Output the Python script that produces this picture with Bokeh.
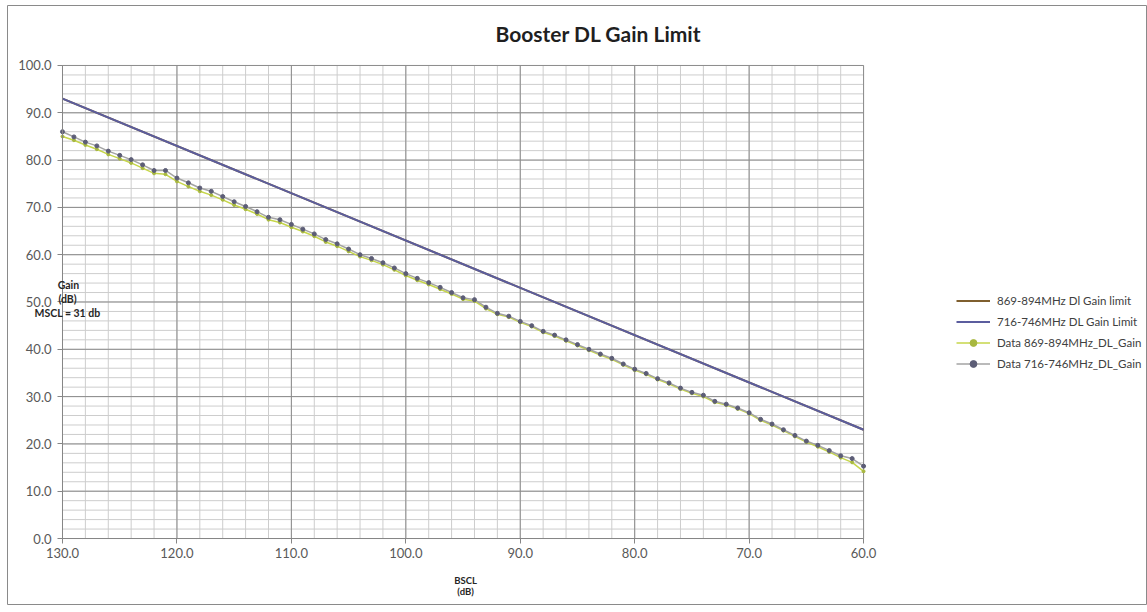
from bokeh.plotting import figure
from bokeh.models import (Range1d, FixedTicker, NumeralTickFormatter, Label, Legend,
                          LegendItem, LinearAxis)
from bokeh.embed import file_html
from bokeh.resources import INLINE

# ---------------- data ----------------
bscl = [130, 129, 128, 127, 126, 125, 124, 123, 122, 121, 120, 119, 118, 117, 116, 115,
        114, 113, 112, 111, 110, 109, 108, 107, 106, 105, 104, 103, 102, 101, 100, 99,
        98, 97, 96, 95, 94, 93, 92, 91, 90, 89, 88, 87, 86, 85, 84, 83, 82, 81, 80, 79,
        78, 77, 76, 75, 74, 73, 72, 71, 70, 69, 68, 67, 66, 65, 64, 63, 62, 61, 60]

data_716 = [86.0, 84.9, 83.8, 83.0, 81.9, 81.0, 80.1, 79.0, 77.8, 77.8, 76.2, 75.2, 74.1, 73.4,
            72.3, 71.2, 70.2, 69.1, 67.9, 67.4, 66.4, 65.4, 64.4, 63.2, 62.3, 61.2, 60.0, 59.2,
            58.3, 57.2, 56.0, 55.0, 54.1, 53.1, 52.0, 50.9, 50.5, 48.9, 47.6, 47.0, 45.9, 45.0,
            43.8, 43.0, 42.0, 41.0, 40.0, 39.0, 38.1, 36.9, 35.8, 34.9, 33.8, 32.9, 31.8, 30.9,
            30.3, 29.0, 28.4, 27.6, 26.6, 25.2, 24.2, 23.0, 21.8, 20.6, 19.7, 18.6, 17.5, 16.9, 15.3]

data_869 = [85.0, 84.2, 83.2, 82.3, 81.2, 80.3, 79.4, 78.3, 77.2, 77.0, 75.5, 74.4, 73.4, 72.6,
            71.6, 70.5, 69.6, 68.6, 67.4, 66.8, 65.8, 64.9, 63.9, 62.7, 61.8, 60.7, 59.6, 58.8,
            57.9, 56.8, 55.6, 54.6, 53.7, 52.7, 51.7, 50.6, 50.2, 48.6, 47.4, 46.8, 45.7, 44.8,
            43.6, 42.8, 41.8, 40.8, 39.8, 38.8, 37.9, 36.7, 35.6, 34.7, 33.6, 32.7, 31.6, 30.7,
            30.0, 28.8, 28.2, 27.4, 26.4, 25.0, 24.0, 22.8, 21.6, 20.4, 19.4, 18.3, 17.1, 16.1, 14.2]

limit_x = [130, 60]
limit_869 = [93.0, 23.0]
limit_716 = [93.0, 23.0]

x_ticks = [130, 120, 110, 100, 90, 80, 70, 60]
y_ticks = [0, 10, 20, 30, 40, 50, 60, 70, 80, 90, 100]
x_minor = list(range(60, 131, 2))
y_minor = list(range(0, 101, 2))

title_text = "Booster DL Gain Limit"
series_names = ["869-894MHz Dl Gain limit", "716-746MHz DL Gain Limit",
                "Data 869-894MHz_DL_Gain", "Data 716-746MHz_DL_Gain"]

FONT = "Lato"
TICK_COLOR = "#595959"

# plotting area: the frame fills the whole figure, axes are pinned at x=130 / y=0
p = figure(width=1140, height=600, output_backend="svg", toolbar_location=None,
           x_range=Range1d(134.806, 35.19), y_range=Range1d(-14.16, 112.68),
           x_axis_location=None, y_axis_location=None,
           min_border=0, min_border_left=0, min_border_right=0,
           min_border_top=0, min_border_bottom=0)
p.outline_line_color = "#8a8a8a"
p.background_fill_color = "white"
p.border_fill_color = "white"
p.xgrid.visible = False
p.ygrid.visible = False
p.styles = {"margin-left": "7px", "margin-top": "5px"}

# grid lines (from the tick lists)
lo_x, hi_x = min(x_ticks), max(x_ticks)
lo_y, hi_y = min(y_ticks), max(y_ticks)
p.segment(x0=x_minor, y0=[lo_y] * len(x_minor), x1=x_minor, y1=[hi_y] * len(x_minor),
          line_color="#cdcdcd", line_width=1)
p.segment(x0=[lo_x] * len(y_minor), y0=y_minor, x1=[hi_x] * len(y_minor), y1=y_minor,
          line_color="#cdcdcd", line_width=1)
p.segment(x0=x_ticks, y0=[lo_y] * len(x_ticks), x1=x_ticks, y1=[hi_y] * len(x_ticks),
          line_color="#8c8c8c", line_width=1)
p.segment(x0=[lo_x] * len(y_ticks), y0=y_ticks, x1=[hi_x] * len(y_ticks), y1=y_ticks,
          line_color="#8c8c8c", line_width=1)

# axes
xax = LinearAxis(fixed_location=0, bounds=(lo_x, hi_x),
                 ticker=FixedTicker(ticks=x_ticks, minor_ticks=x_minor))
yax = LinearAxis(fixed_location=130, bounds=(lo_y, hi_y),
                 ticker=FixedTicker(ticks=y_ticks, minor_ticks=y_minor))
for ax in (xax, yax):
    ax.formatter = NumeralTickFormatter(format="0.0")
    ax.major_label_text_font = FONT
    ax.major_label_text_font_size = "13px"
    ax.major_label_text_color = TICK_COLOR
    ax.axis_line_color = "#868686"
    ax.major_tick_line_color = "#868686"
    ax.minor_tick_line_color = None
    ax.major_tick_out = 5
    ax.major_tick_in = 0
xax.major_label_standoff = 4
yax.major_label_standoff = 6
p.add_layout(xax, "below")
p.add_layout(yax, "left")

# series
r_lim869 = p.line(limit_x, limit_869, line_color="#7f5f2f", line_width=2)
r_d869 = p.line(bscl, data_869, line_color="#c6d64a", line_width=1.5)
r_d869m = p.scatter(bscl, data_869, marker="circle", size=3, fill_color="#a8b840",
                    line_color="#a8b840")
r_d716 = p.line(bscl, data_716, line_color="#a3a3a3", line_width=1.5)
r_d716m = p.scatter(bscl, data_716, marker="circle", size=4, fill_color="#5c5d76",
                    line_color="#5c5d76")
r_lim716 = p.line(limit_x, limit_716, line_color="#5b5d9e", line_width=2)

legend = Legend(items=[
    LegendItem(label=series_names[0], renderers=[r_lim869]),
    LegendItem(label=series_names[1], renderers=[r_lim716]),
    LegendItem(label=series_names[2], renderers=[r_d869, r_d869m]),
    LegendItem(label=series_names[3], renderers=[r_d716, r_d716m]),
], location=(949, 233))
legend.label_text_font = FONT
legend.label_text_font_size = "11.5px"
legend.label_text_color = "#404040"
legend.label_height = 17
legend.glyph_height = 17
legend.glyph_width = 34
legend.spacing = 4
legend.padding = 0
legend.margin = 0
legend.label_standoff = 7
legend.border_line_color = None
legend.background_fill_alpha = 0
p.add_layout(legend)

# title and axis texts
p.add_layout(Label(x=83.16, y=106.77, text=title_text, text_font=FONT, text_font_size="21px",
                   text_font_style="bold", text_color="#1f1f1f", text_align="center",
                   text_baseline="middle"))
for txt, xx, yy in (("Gain", 129.48, 53.5), ("(dB)", 129.56, 50.7), ("MSCL = 31 db", 129.56, 47.6)):
    p.add_layout(Label(x=xx, y=yy, text=txt, text_font=FONT, text_font_size="10.5px",
                       text_font_style="bold", text_color="#262626", text_align="center",
                       text_baseline="middle"))
for txt, yy in (("BSCL", -8.88), ("(dB)", -11.2)):
    p.add_layout(Label(x=94.78, y=yy, text=txt, text_font=FONT, text_font_size="9.5px",
                       text_font_style="bold", text_color="#262626", text_align="center",
                       text_baseline="middle"))

open("out.html", "w").write(file_html(p, INLINE))
